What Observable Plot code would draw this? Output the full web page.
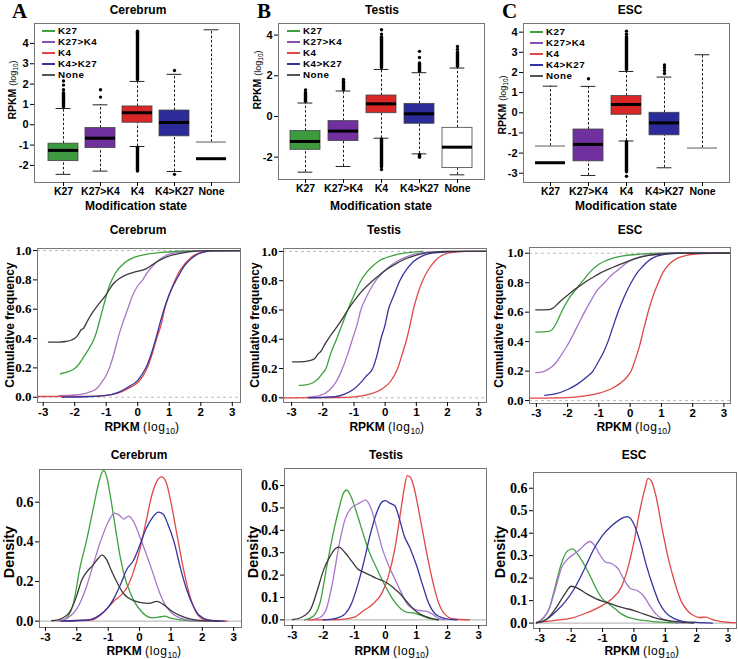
<!DOCTYPE html>
<html><head><meta charset="utf-8">
<script src="https://cdn.jsdelivr.net/npm/d3@7"></script>
<script src="https://cdn.jsdelivr.net/npm/@observablehq/plot@0.6"></script>
<style>
body{margin:0;background:#fff}
#fig{position:relative;width:738px;height:659px;overflow:hidden;font-family:"Liberation Sans",Arial,sans-serif;color:#000}
.lab{position:absolute;white-space:nowrap;transform:translate(-50%,-50%);font-weight:bold;font-size:12px;line-height:1}
.rot{transform:translate(-50%,-50%) rotate(-90deg)}
.sm{font-weight:normal;font-size:12px;letter-spacing:0.6px}
.sm sub{font-size:8.5px;letter-spacing:0;line-height:0}
.sm1{font-weight:normal;font-size:9px}
.sm1 sub{font-size:6.5px;line-height:0}
.leg{position:absolute;transform:translateY(-50%);font-weight:bold;font-size:9.8px;line-height:1;white-space:nowrap;letter-spacing:0.5px}
.letter{position:absolute;font-family:"Liberation Serif",serif;font-weight:bold;font-size:21px;line-height:1}
</style></head><body><div id="fig"></div><script>
// ---------- data ----------
const tissues = ["Cerebrum", "Testis", "ESC"];
const panelLetters = ["A", "B", "C"];
const states = ["K27", "K27>K4", "K4", "K4>K27", "None"];
const boxFill = ["#3E9A3E", "#7030A0", "#D92626", "#2B2B99", "#FFFFFF"];
const lineColors = ["#3FA13F", "#A577CB", "#E04848", "#3434A0", "#3A3A3A"];
const legendColors = ["#3FA13F", "#8A4FB0", "#E04848", "#3434A0", "#555555"];

// box statistics per state: [lower whisker, Q1, median, Q3, upper whisker]
const boxCerebrum = [[-2.44,-1.79,-1.26,-0.93,0.80],[-2.28,-1.15,-0.66,-0.16,0.98],[-1.07,0.10,0.59,0.90,2.13],[-2.30,-0.57,0.11,0.70,2.48],[-1.67,-1.67,-1.67,-0.85,4.67]];
const boxTestis   = [[-2.74,-1.64,-1.23,-0.72,0.66],[-2.46,-1.21,-0.72,-0.23,1.25],[-1.07,0.16,0.62,1.03,2.31],[-1.84,-0.36,0.13,0.62,2.15],[-2.87,-2.54,-1.51,-0.56,2.38]];
const boxESC      = [[-2.48,-2.48,-2.48,-1.65,1.32],[-3.11,-2.41,-1.57,-0.83,1.31],[-1.40,-0.10,0.41,0.83,2.05],[-2.73,-1.12,-0.50,0.00,1.77],[-1.75,-1.75,null,-1.75,2.88]];
// dense outlier stacks [state, from, to] and single outliers [state, value]
const outRunsCerebrum = [["K27",0.86,1.55],["K4",2.2,4.52],["K4",-2.3,-1.13]];
const outDotsCerebrum = [["K27",1.72],["K27",1.95],["K27",2.15],["K27>K4",1.36],["K27>K4",1.72],["K4",4.6],["K4>K27",2.67],["K4>K27",-2.44]];
const outRunsTestis = [["K27",0.72,1.15],["K27>K4",1.3,1.7],["K4",2.38,3.9],["K4",-2.5,-1.13],["K4>K27",2.2,2.6],["K4>K27",-2.03,-1.9],["None",2.44,3.15]];
const outDotsTestis = [["K27",1.3],["K27>K4",1.82],["K4",4.05],["K4",4.26],["K4",-2.61],["K4>K27",2.9],["K4>K27",3.2],["None",3.3],["None",3.44]];
const outRunsESC = [["K4",2.12,3.75],["K4",-2.95,-1.46]];
const outDotsESC = [["K27>K4",1.69],["K4",3.9],["K4",4.05],["K4",-3.15],["K4>K27",1.95],["K4>K27",2.1],["K4>K27",2.25],["K4>K27",2.37]];

const boxYTicksCerebrum = [-2,-1,0,1,2,3,4];
const boxYTicksTestis = [-2,0,2,4];
const boxYTicksESC = [-3,-2,-1,0,1,2,3,4];
const xTicksRPKM = [-3,-2,-1,0,1,2,3];
const cdfYTicks = [0,0.2,0.4,0.6,0.8,1.0];
const densYTicksCerebrum = [0,0.2,0.4,0.6];
const densYTicksTestis = [0,0.1,0.2,0.3,0.4,0.5,0.6];
const densYTicksESC = [0,0.1,0.2,0.3,0.4,0.5,0.6];

// cumulative frequency curves [RPKM log10, fraction]
const cdfCerebrumK27 = [[-2.45,0.16],[-2.2,0.175],[-2.0,0.195],[-1.85,0.23],[-1.7,0.28],[-1.55,0.33],[-1.4,0.39],[-1.3,0.45],[-1.2,0.53],[-1.1,0.61],[-1.0,0.69],[-0.9,0.76],[-0.8,0.81],[-0.65,0.865],[-0.5,0.9],[-0.3,0.935],[-0.1,0.955],[0.3,0.975],[0.8,0.988],[1.5,0.997],[2.0,1],[3.25,1]];
const cdfCerebrumK27K4 = [[-2.5,0.01],[-2.0,0.015],[-1.6,0.03],[-1.3,0.06],[-1.15,0.1],[-1.0,0.15],[-0.9,0.2],[-0.75,0.3],[-0.63,0.4],[-0.5,0.49],[-0.32,0.6],[-0.15,0.7],[0.0,0.76],[0.16,0.8],[0.3,0.85],[0.5,0.9],[0.7,0.94],[1.0,0.975],[1.4,0.99],[1.8,0.998],[2.2,1],[3.25,1]];
const cdfCerebrumK4 = [[-3.2,0.005],[-1.5,0.006],[-1.0,0.012],[-0.6,0.03],[-0.3,0.06],[0.0,0.1],[0.15,0.14],[0.3,0.2],[0.45,0.29],[0.6,0.4],[0.75,0.5],[0.85,0.6],[1.0,0.7],[1.15,0.78],[1.3,0.85],[1.5,0.91],[1.7,0.955],[1.9,0.98],[2.1,0.993],[2.4,1],[3.25,1]];
const cdfCerebrumK4K27 = [[-2.4,0.0],[-1.5,0.005],[-1.0,0.012],[-0.6,0.035],[-0.3,0.07],[0.0,0.115],[0.15,0.16],[0.3,0.22],[0.45,0.31],[0.6,0.42],[0.7,0.5],[0.85,0.61],[1.0,0.7],[1.15,0.77],[1.3,0.83],[1.5,0.9],[1.7,0.945],[1.9,0.975],[2.1,0.99],[2.4,0.998],[3.25,1]];
const cdfCerebrumNone = [[-2.83,0.375],[-2.5,0.375],[-2.3,0.38],[-2.1,0.39],[-1.95,0.41],[-1.85,0.44],[-1.8,0.46],[-1.72,0.47],[-1.62,0.51],[-1.46,0.57],[-1.22,0.64],[-1.0,0.70],[-0.79,0.77],[-0.58,0.81],[-0.16,0.85],[0.26,0.875],[0.58,0.92],[0.9,0.955],[1.43,0.985],[1.96,0.998],[2.3,1],[3.25,1]];

const cdfTestisK27 = [[-2.75,0.085],[-2.5,0.09],[-2.3,0.105],[-2.15,0.13],[-2.0,0.17],[-1.9,0.2],[-1.75,0.3],[-1.56,0.4],[-1.38,0.5],[-1.2,0.6],[-1.0,0.7],[-0.78,0.8],[-0.6,0.855],[-0.4,0.9],[-0.2,0.935],[0,0.955],[0.3,0.975],[0.7,0.99],[1.2,1.0]];
const cdfTestisK27K4 = [[-2.49,0.005],[-2.1,0.015],[-1.8,0.05],[-1.6,0.1],[-1.45,0.16],[-1.37,0.2],[-1.2,0.3],[-1.05,0.4],[-0.9,0.5],[-0.78,0.6],[-0.6,0.69],[-0.45,0.75],[-0.3,0.8],[-0.1,0.85],[0.1,0.89],[0.4,0.935],[0.7,0.965],[1.0,0.985],[1.5,0.997],[2.0,1],[3.25,1]];
const cdfTestisK4 = [[-3.25,0.0],[-1.5,0.002],[-1.0,0.006],[-0.5,0.025],[-0.1,0.06],[0.2,0.12],[0.4,0.2],[0.55,0.3],[0.69,0.4],[0.8,0.5],[0.9,0.6],[1.03,0.7],[1.2,0.8],[1.4,0.88],[1.6,0.935],[1.8,0.97],[2.0,0.988],[2.3,0.997],[2.6,1],[3.25,1]];
const cdfTestisK4K27 = [[-2.45,0.0],[-2.0,0.003],[-1.6,0.008],[-1.3,0.025],[-1.0,0.06],[-0.8,0.1],[-0.6,0.15],[-0.4,0.2],[-0.25,0.3],[-0.14,0.4],[0.0,0.5],[0.1,0.6],[0.28,0.7],[0.47,0.8],[0.7,0.88],[0.9,0.93],[1.2,0.97],[1.5,0.988],[2.0,0.997],[2.5,1],[3.25,1]];
const cdfTestisNone = [[-2.97,0.245],[-2.6,0.247],[-2.4,0.255],[-2.25,0.27],[-2.15,0.3],[-2.05,0.32],[-1.95,0.36],[-1.8,0.41],[-1.6,0.47],[-1.4,0.53],[-1.2,0.6],[-1.0,0.66],[-0.8,0.715],[-0.6,0.76],[-0.4,0.8],[-0.2,0.835],[0,0.87],[0.3,0.91],[0.66,0.95],[1.0,0.975],[1.5,0.993],[2.0,1],[3.25,1]];

const cdfESCK27 = [[-3.02,0.465],[-2.6,0.47],[-2.5,0.48],[-2.35,0.53],[-2.2,0.6],[-2.05,0.66],[-1.9,0.71],[-1.75,0.75],[-1.6,0.79],[-1.45,0.83],[-1.25,0.88],[-1.0,0.925],[-0.77,0.95],[-0.5,0.97],[-0.23,0.982],[0.3,0.994],[1.0,1.0],[3.25,1]];
const cdfESCK27K4 = [[-3.02,0.19],[-2.8,0.195],[-2.6,0.215],[-2.4,0.25],[-2.2,0.31],[-2.05,0.36],[-1.94,0.4],[-1.7,0.5],[-1.46,0.6],[-1.25,0.68],[-1.05,0.75],[-0.82,0.8],[-0.6,0.85],[-0.4,0.885],[-0.2,0.92],[0,0.95],[0.3,0.975],[0.7,0.992],[1.2,1.0],[3.25,1]];
const cdfESCK4 = [[-3.22,0.016],[-2.0,0.02],[-1.5,0.03],[-1.0,0.05],[-0.6,0.08],[-0.3,0.12],[-0.1,0.16],[0.03,0.2],[0.15,0.27],[0.3,0.37],[0.45,0.5],[0.6,0.62],[0.75,0.72],[0.9,0.8],[1.05,0.87],[1.25,0.925],[1.5,0.965],[1.8,0.985],[2.1,0.995],[2.6,1],[3.25,1]];
const cdfESCK4K27 = [[-2.73,0.035],[-2.4,0.045],[-2.0,0.075],[-1.7,0.11],[-1.45,0.15],[-1.19,0.2],[-1.0,0.27],[-0.85,0.33],[-0.71,0.4],[-0.55,0.5],[-0.39,0.6],[-0.2,0.7],[0.03,0.8],[0.2,0.86],[0.4,0.91],[0.6,0.95],[0.85,0.98],[1.1,0.993],[1.5,1.0],[3.25,1]];
const cdfESCNone = [[-3.02,0.615],[-2.6,0.617],[-2.45,0.63],[-2.3,0.66],[-2.15,0.69],[-2.0,0.715],[-1.8,0.75],[-1.6,0.78],[-1.4,0.81],[-1.2,0.835],[-1.0,0.86],[-0.6,0.9],[-0.2,0.935],[0.2,0.965],[0.6,0.985],[1.0,0.995],[1.5,1.0],[3.25,1.0]];

// density curves [RPKM log10, density]
const densCerebrumK27 = [[-2.5,0],[-2.3,0.02],[-2.1,0.095],[-1.9,0.27],[-1.7,0.40],[-1.5,0.55],[-1.35,0.665],[-1.2,0.75],[-1.15,0.76],[-1.05,0.73],[-0.9,0.60],[-0.75,0.45],[-0.6,0.31],[-0.45,0.21],[-0.3,0.145],[-0.15,0.095],[0,0.06],[0.2,0.028],[0.4,0.017],[0.6,0.02],[0.8,0.025],[1.0,0.015],[1.3,0.007],[1.6,0.002],[2.0,0]];
const densCerebrumK27K4 = [[-2.6,0],[-2.3,0.015],[-2.0,0.062],[-1.7,0.17],[-1.45,0.30],[-1.25,0.40],[-1.0,0.50],[-0.8,0.545],[-0.65,0.535],[-0.5,0.515],[-0.35,0.53],[-0.2,0.505],[0.0,0.43],[0.2,0.345],[0.4,0.255],[0.6,0.16],[0.8,0.087],[1.0,0.045],[1.3,0.015],[1.7,0.003],[2.2,0]];
const densCerebrumK4 = [[-2.5,0],[-1.5,0.007],[-1.2,0.037],[-1.0,0.07],[-0.8,0.104],[-0.6,0.13],[-0.4,0.17],[-0.2,0.246],[0,0.355],[0.2,0.497],[0.4,0.64],[0.55,0.705],[0.7,0.728],[0.85,0.70],[1.0,0.60],[1.2,0.43],[1.4,0.263],[1.6,0.13],[1.8,0.045],[2.0,0.012],[2.3,0.002],[2.8,0]];
const densCerebrumK4K27 = [[-2.5,0],[-1.6,0.007],[-1.3,0.028],[-1.0,0.07],[-0.8,0.12],[-0.6,0.187],[-0.4,0.263],[-0.2,0.305],[0,0.38],[0.2,0.464],[0.4,0.52],[0.6,0.55],[0.75,0.54],[0.9,0.49],[1.1,0.40],[1.3,0.27],[1.5,0.16],[1.7,0.08],[1.9,0.03],[2.2,0.007],[2.7,0]];
const densCerebrumNone = [[-2.8,0.002],[-2.5,0.012],[-2.2,0.054],[-2.0,0.13],[-1.85,0.205],[-1.7,0.245],[-1.5,0.28],[-1.3,0.32],[-1.2,0.333],[-1.05,0.31],[-0.9,0.255],[-0.7,0.19],[-0.5,0.137],[-0.3,0.112],[0,0.095],[0.3,0.09],[0.55,0.10],[0.8,0.079],[1.0,0.054],[1.3,0.028],[1.6,0.012],[2.0,0.003],[2.5,0]];

const densTestisK27 = [[-2.6,0],[-2.3,0.02],[-2.1,0.08],[-1.9,0.23],[-1.7,0.375],[-1.5,0.495],[-1.35,0.567],[-1.25,0.58],[-1.1,0.548],[-0.9,0.466],[-0.7,0.376],[-0.5,0.295],[-0.3,0.235],[-0.1,0.176],[0.1,0.124],[0.3,0.079],[0.5,0.049],[0.7,0.034],[0.9,0.031],[1.1,0.022],[1.4,0.007],[1.7,0]];
const densTestisK27K4 = [[-2.4,0],[-2.1,0.012],[-1.9,0.05],[-1.7,0.17],[-1.5,0.33],[-1.3,0.45],[-1.1,0.50],[-0.95,0.513],[-0.8,0.525],[-0.65,0.535],[-0.5,0.51],[-0.3,0.42],[-0.1,0.317],[0.1,0.243],[0.3,0.183],[0.5,0.124],[0.7,0.071],[0.9,0.049],[1.1,0.042],[1.3,0.039],[1.5,0.027],[1.7,0.007],[1.9,0]];
const densTestisK4 = [[-2.5,0],[-1.5,0.001],[-1.0,0.012],[-0.7,0.042],[-0.4,0.071],[-0.1,0.124],[0.1,0.198],[0.3,0.317],[0.5,0.495],[0.6,0.585],[0.7,0.644],[0.8,0.637],[0.9,0.60],[1.1,0.466],[1.3,0.317],[1.5,0.183],[1.7,0.079],[1.9,0.027],[2.2,0.004],[2.7,0]];
const densTestisK4K27 = [[-2.0,0],[-1.6,0.007],[-1.3,0.027],[-1.1,0.071],[-0.9,0.153],[-0.7,0.257],[-0.5,0.376],[-0.3,0.473],[-0.1,0.528],[0,0.533],[0.15,0.52],[0.3,0.51],[0.45,0.45],[0.6,0.376],[0.8,0.317],[1.0,0.243],[1.2,0.153],[1.4,0.071],[1.6,0.027],[1.9,0.007],[2.3,0]];
const densTestisNone = [[-3.0,0.001],[-2.7,0.012],[-2.4,0.05],[-2.2,0.13],[-2.0,0.22],[-1.8,0.28],[-1.6,0.32],[-1.5,0.325],[-1.3,0.30],[-1.1,0.265],[-0.9,0.228],[-0.7,0.213],[-0.5,0.20],[-0.3,0.186],[-0.1,0.176],[0.1,0.16],[0.3,0.138],[0.5,0.112],[0.7,0.079],[0.9,0.049],[1.1,0.027],[1.3,0.015],[1.5,0.006],[1.7,0]];

const densESCK27 = [[-3.1,0.004],[-2.9,0.019],[-2.7,0.064],[-2.5,0.167],[-2.3,0.27],[-2.1,0.323],[-1.95,0.33],[-1.8,0.308],[-1.6,0.264],[-1.4,0.212],[-1.2,0.153],[-1.0,0.108],[-0.8,0.086],[-0.6,0.064],[-0.4,0.041],[-0.2,0.027],[0,0.019],[0.3,0.012],[0.6,0.007],[1.0,0.003],[1.4,0]];
const densESCK27K4 = [[-3.1,0.001],[-2.9,0.022],[-2.7,0.064],[-2.5,0.153],[-2.3,0.249],[-2.1,0.286],[-1.9,0.308],[-1.7,0.33],[-1.5,0.357],[-1.4,0.363],[-1.25,0.345],[-1.1,0.308],[-0.9,0.271],[-0.7,0.264],[-0.5,0.241],[-0.3,0.19],[-0.1,0.153],[0.1,0.145],[0.3,0.123],[0.5,0.079],[0.7,0.041],[0.9,0.019],[1.2,0.007],[1.6,0]];
const densESCK4 = [[-3.1,0.003],[-2.5,0.012],[-2.0,0.022],[-1.5,0.046],[-1.0,0.079],[-0.7,0.108],[-0.4,0.16],[-0.2,0.241],[0,0.36],[0.2,0.508],[0.35,0.597],[0.45,0.644],[0.55,0.634],[0.7,0.567],[0.9,0.419],[1.1,0.286],[1.3,0.182],[1.5,0.10],[1.7,0.056],[1.9,0.034],[2.1,0.025],[2.3,0.027],[2.5,0.015],[2.8,0.007],[3.25,0.002]];
const densESCK4K27 = [[-3.1,0.001],[-2.8,0.015],[-2.5,0.049],[-2.2,0.093],[-1.9,0.153],[-1.6,0.234],[-1.3,0.323],[-1.0,0.39],[-0.7,0.434],[-0.5,0.456],[-0.3,0.471],[-0.2,0.474],[0,0.441],[0.2,0.36],[0.4,0.256],[0.6,0.167],[0.8,0.093],[1.0,0.049],[1.3,0.019],[1.6,0.007],[2.0,0.003],[2.5,0]];
const densESCNone = [[-3.1,0.001],[-2.8,0.015],[-2.5,0.064],[-2.2,0.13],[-2.0,0.164],[-1.8,0.156],[-1.5,0.13],[-1.2,0.108],[-0.9,0.093],[-0.6,0.079],[-0.3,0.067],[0,0.056],[0.3,0.041],[0.6,0.027],[0.9,0.016],[1.2,0.009],[1.5,0.004],[1.9,0]];

// ---------- layout ----------
const fig = document.getElementById("fig");
const LAY = {
  boxA:{left:0,top:0,w:245,h:215,f:[34,23,239,182]},
  boxB:{left:245,top:0,w:245,h:215,f:[278,23,484,179]},
  boxC:{left:490,top:0,w:248,h:215,f:[523,23,729,182]},
  cdfA:{left:0,top:215,w:245,h:220,f:[37,248,240,402]},
  cdfB:{left:245,top:215,w:245,h:220,f:[283,248,486,402]},
  cdfC:{left:490,top:215,w:248,h:220,f:[529,247,730,403]},
  denA:{left:0,top:435,w:245,h:224,f:[39,469,241,627]},
  denB:{left:245,top:435,w:245,h:224,f:[284,468,486,625]},
  denC:{left:490,top:435,w:248,h:224,f:[533,472,736,628]}
};
function dims(L){
  return {width:L.w,height:L.h,marginLeft:L.f[0]-L.left,marginTop:L.f[1]-L.top,
          marginRight:L.left+L.w-L.f[2],marginBottom:L.top+L.h-L.f[3]};
}
function place(svg,L){
  svg.style.position="absolute"; svg.style.left=L.left+"px"; svg.style.top=L.top+"px";
  fig.appendChild(svg);
}
const plotStyle = {fontFamily:"'Liberation Sans', Arial, sans-serif",fontSize:"11px",color:"#000",background:"transparent",overflow:"visible"};

function boxPanel(stats, runs, dots, yDomain, yTicks, L){
  const rows = states.map((s,j)=>({cat:s,lo:stats[j][0],q1:stats[j][1],med:stats[j][2],q3:stats[j][3],hi:stats[j][4]}));
  const hasBox = r => r.med !== null && r.q1 !== r.med;
  const boxed = rows.filter(hasBox), flat = rows.filter(r=>!hasBox(r));
  const lowW = rows.filter(r=>r.lo < r.q1);
  const pi = 0.2, po = 0.3;
  const bw = (L.f[2]-L.f[0])*(1-pi)/(states.length-pi+2*po);
  const cap = bw/4;
  const dash = {stroke:"#000",strokeWidth:0.9,strokeDasharray:"2.5,2"};
  const svg = Plot.plot({...dims(L), style:plotStyle,
    x:{type:"band",domain:states,paddingInner:pi,paddingOuter:po,label:null},
    y:{domain:yDomain,label:null},
    color:{domain:states,range:boxFill},
    marks:[
      Plot.ruleX(rows,{x:"cat",y1:"q3",y2:"hi",...dash}),
      Plot.ruleX(lowW,{x:"cat",y1:"lo",y2:"q1",...dash}),
      Plot.tickY(rows,{x:"cat",y:"hi",insetLeft:cap,insetRight:cap,stroke:"#222",strokeWidth:1}),
      Plot.tickY(lowW,{x:"cat",y:"lo",insetLeft:cap,insetRight:cap,stroke:"#222",strokeWidth:1}),
      Plot.barY(boxed,{x:"cat",y1:"q1",y2:"q3",fill:"cat",stroke:"#444",strokeWidth:0.8}),
      Plot.tickY(flat,{x:"cat",y:"q3",stroke:"#777",strokeWidth:1.2}),
      Plot.tickY(rows.filter(r=>r.med!==null),{x:"cat",y:"med",stroke:"#000",strokeWidth:3}),
      Plot.ruleX(runs,{x:d=>d[0],y1:d=>d[1],y2:d=>d[2],stroke:"#000",strokeWidth:3.4,strokeLinecap:"round"}),
      Plot.dot(dots,{x:d=>d[0],y:d=>d[1],r:1.7,fill:"#000"}),
      Plot.frame({stroke:"#777"}),
      Plot.axisY({ticks:yTicks,tickFormat:d=>String(d),tickSize:4,tickPadding:2,fontSize:11,fontWeight:"bold",label:null}),
      Plot.axisX({tickSize:4,tickPadding:1,fontSize:10.5,fontWeight:"bold",label:null})
    ]});
  place(svg,L);
}

function linePanel(series, xDomain, yDomain, yTicks, yFont, kind, L){
  const rows = [];
  series.forEach((arr,j)=>arr.forEach(([x,y])=>rows.push({s:states[j],x,y})));
  const ref = kind==="cdf"
    ? Plot.ruleY([0,1],{stroke:"#aaa",strokeDasharray:"3,3",strokeWidth:0.8})
    : Plot.ruleY([0],{stroke:"#999",strokeWidth:0.8});
  const svg = Plot.plot({...dims(L), style:plotStyle,
    x:{domain:xDomain,label:null},
    y:{domain:yDomain,label:null},
    color:{domain:states,range:lineColors},
    marks:[
      ref,
      Plot.line(rows,{x:"x",y:"y",z:"s",stroke:"s",strokeWidth:1.3,curve:"monotone-x",clip:true}),
      Plot.frame({stroke:"#777"}),
      Plot.axisY({ticks:yTicks,tickFormat:d=>d.toFixed(1),tickSize:4,tickPadding:2,fontSize:yFont,fontWeight:"bold",fontFamily:"'Liberation Serif', serif",label:null}),
      Plot.axisX({ticks:xTicksRPKM,tickFormat:d=>String(d),tickSize:4,tickPadding:1,fontSize:11.5,fontWeight:"bold",label:null})
    ]});
  place(svg,L);
}

// ---------- draw ----------
boxPanel(boxCerebrum,outRunsCerebrum,outDotsCerebrum,[-2.84,4.98],boxYTicksCerebrum,LAY.boxA);
boxPanel(boxTestis,outRunsTestis,outDotsTestis,[-3.1,4.57],boxYTicksTestis,LAY.boxB);
boxPanel(boxESC,outRunsESC,outDotsESC,[-3.46,4.43],boxYTicksESC,LAY.boxC);

linePanel([cdfCerebrumK27,cdfCerebrumK27K4,cdfCerebrumK4,cdfCerebrumK4K27,cdfCerebrumNone],[-3.18,3.26],[-0.036,1.014],cdfYTicks,13,"cdf",LAY.cdfA);
linePanel([cdfTestisK27,cdfTestisK27K4,cdfTestisK4,cdfTestisK4K27,cdfTestisNone],[-3.26,3.25],[-0.032,1.02],cdfYTicks,13,"cdf",LAY.cdfB);
linePanel([cdfESCK27,cdfESCK27K4,cdfESCK4,cdfESCK4K27,cdfESCNone],[-3.22,3.21],[-0.02,1.039],cdfYTicks,13,"cdf",LAY.cdfC);

linePanel([densCerebrumK27,densCerebrumK27K4,densCerebrumK4,densCerebrumK4K27,densCerebrumNone],[-3.19,3.25],[-0.032,0.765],densYTicksCerebrum,14,"dens",LAY.denA);
linePanel([densTestisK27,densTestisK27K4,densTestisK4,densTestisK4K27,densTestisNone],[-3.25,3.25],[-0.025,0.676],densYTicksTestis,14,"dens",LAY.denB);
linePanel([densESCK27,densESCK27K4,densESCK4,densESCK4K27,densESCNone],[-3.2,3.27],[-0.024,0.67],densYTicksESC,14,"dens",LAY.denC);

// ---------- text ----------
function addLabel(html,x,y,opts={}){
  const d=document.createElement("div");
  d.className="lab"+(opts.rot?" rot":"");
  d.innerHTML=html; d.style.left=x+"px"; d.style.top=y+"px";
  if(opts.size) d.style.fontSize=opts.size+"px";
  fig.appendChild(d);
}
const rpkm = 'RPKM <span class="sm">(log<sub>10</sub>)</span>';
const rpkmSmall = 'RPKM <span class="sm1">(log<sub>10</sub>)</span>';

const colBox = [[138,382,630],[12,257,502],[90,80,105],[136,381,626]];
const colCdf = [[138,384,630],[10,255,499],[142,387,634]];
const colDen = [[139,386,634],[9,253,500],[144,392,642]];

tissues.forEach((t,i)=>{
  addLabel(t,colBox[0][i],10);
  addLabel(rpkmSmall,colBox[1][i],colBox[2][i],{rot:true,size:10.5});
  addLabel("Modification state",colBox[3][i],206);
  addLabel(t,colCdf[0][i],230);
  addLabel("Cumulative frequency",colCdf[1][i],325,{rot:true});
  addLabel(rpkm,colCdf[2][i],427);
  addLabel(t,colDen[0][i],455);
  addLabel("Density",colDen[1][i],552,{rot:true,size:14.5});
  addLabel(rpkm,colDen[2][i],651);
  const L=document.createElement("div");
  L.className="letter"; L.textContent=panelLetters[i];
  L.style.left=[12,257,502][i]+"px"; L.style.top="1px";
  fig.appendChild(L);
});

// legends in the box panels
[[42,31],[287,31],[530,32]].forEach(([x0,y0])=>{
  states.forEach((s,j)=>{
    const ln=document.createElement("div");
    ln.style.cssText=`position:absolute;left:${x0}px;top:${y0+j*11-1}px;width:13px;height:2px;background:${legendColors[j]}`;
    fig.appendChild(ln);
    const tx=document.createElement("div");
    tx.className="leg"; tx.textContent=s;
    tx.style.left=(x0+16)+"px"; tx.style.top=(y0+j*11)+"px";
    fig.appendChild(tx);
  });
});
</script></body></html>
